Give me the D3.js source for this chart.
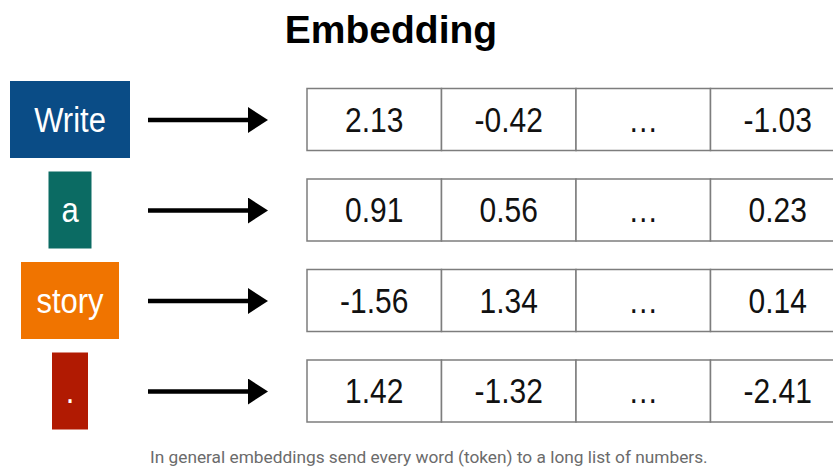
<!DOCTYPE html>
<html>
<head>
<meta charset="utf-8">
<script src="https://cdn.jsdelivr.net/npm/d3@7"></script>
<style>
  html, body { margin: 0; padding: 0; background: #fff; }
  svg { display: block; }
</style>
</head>
<body>
<div id="chart"></div>
<script>
// tokens and their embedding vectors
const tokens = ["Write", "a", "story", "."];
const tokenColors = ["#0a4c86", "#0b6b63", "#f07400", "#b11a02"];
const columns = ["d1", "d2", "gap", "dn"];
const vectors = [
    ["2.13", "-0.42", "...", "-1.03"],
    ["0.91", "0.56", "...", "0.23"],
    ["-1.56", "1.34", "...", "0.14"],
    ["1.42", "-1.32", "...", "-2.41"]
];
const title = "Embedding";
const caption = "In general embeddings send every word (token) to a long list of numbers.";

const width = 833;
const height = 468;

// box widths for the token labels
const boxW = [120, 43, 98, 36];
const boxH = 77;
const rowH = 62;
const stretch = 1.15; // the text in the source is a bit tall

const svg = d3.select("#chart").append("svg")
    .attr("width", width)
    .attr("height", height);

const y = d3.scalePoint()
    .domain(tokens)
    .range([119.5, 391]);

const x = d3.scaleBand()
    .domain(columns)
    .range([307, 307 + 4 * 134.5]);

svg.append("text")
    .attr("x", 391)
    .attr("y", 43)
    .attr("text-anchor", "middle")
    .style("font-family", "'Liberation Sans', Arial, sans-serif")
    .style("font-weight", "bold")
    .style("font-size", "39px")
    .style("fill", "#000")
    .text(title);

svg.append("defs").append("marker")
    .attr("id", "head")
    .attr("viewBox", "0 0 20 26")
    .attr("refX", 0)
    .attr("refY", 13)
    .attr("markerWidth", 20)
    .attr("markerHeight", 26)
    .attr("markerUnits", "userSpaceOnUse")
    .attr("orient", "auto")
    .append("path")
    .attr("d", "M0,0 L20,13 L0,26 Z")
    .attr("fill", "#000");

const rows = svg.selectAll("g.row")
    .data(tokens)
    .enter()
    .append("g")
    .attr("class", "row");

rows.append("rect")
    .attr("x", (d, i) => 70 - boxW[i] / 2)
    .attr("y", d => y(d) - boxH / 2)
    .attr("width", (d, i) => boxW[i])
    .attr("height", boxH)
    .attr("fill", (d, i) => tokenColors[i]);

rows.append("text")
    .attr("transform", d => `translate(70,${y(d)}) scale(1,${stretch})`)
    .attr("y", 10.5)
    .attr("text-anchor", "middle")
    .style("font-family", "'Liberation Sans', Arial, sans-serif")
    .style("font-size", "31px")
    .style("fill", "#fff")
    .text(d => d);

rows.append("line")
    .attr("x1", 148)
    .attr("x2", 248)
    .attr("y1", d => y(d) + 0.5)
    .attr("y2", d => y(d) + 0.5)
    .attr("stroke", "#000")
    .attr("stroke-width", 4.5)
    .attr("marker-end", "url(#head)");

const cells = rows.selectAll("g.cell")
    .data((d, i) => vectors[i].map((v, j) => ({ token: d, col: columns[j], v })))
    .enter()
    .append("g")
    .attr("class", "cell");

cells.append("rect")
    .attr("x", d => x(d.col))
    .attr("y", d => y(d.token) - rowH / 2)
    .attr("width", x.bandwidth())
    .attr("height", rowH)
    .attr("fill", "#fff")
    .attr("stroke", "#7d7d7d")
    .attr("stroke-width", 1.5);

cells.append("text")
    .attr("transform", d => `translate(${x(d.col) + x.bandwidth() / 2},${y(d.token)}) scale(1,${stretch})`)
    .attr("y", 10.5)
    .attr("text-anchor", "middle")
    .style("font-family", "'Liberation Sans', Arial, sans-serif")
    .style("font-size", "30px")
    .style("fill", "#111")
    .text(d => d.v === "..." ? "…" : d.v);

svg.append("text")
    .attr("x", 150)
    .attr("y", 463)
    .style("font-family", "Roboto, sans-serif")
    .style("font-size", "17.3px")
    .style("fill", "#6b6b6b")
    .text(caption);
</script>
</body>
</html>
